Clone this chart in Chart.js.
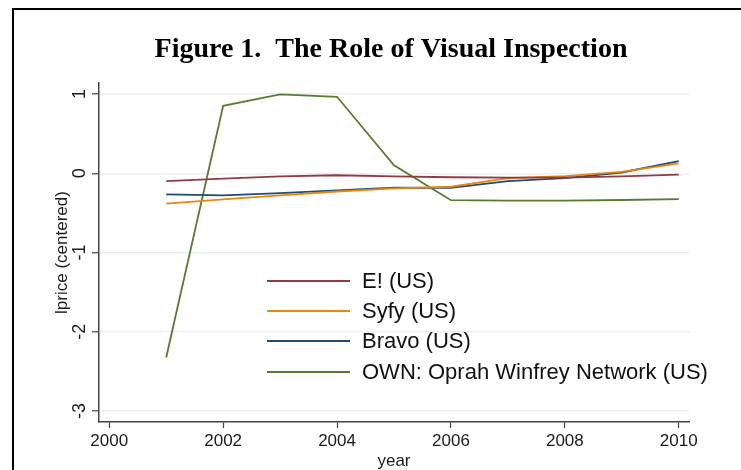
<!DOCTYPE html>
<html>
<head>
<meta charset="utf-8">
<script src="https://cdn.jsdelivr.net/npm/chart.js@4.4.1/dist/chart.umd.min.js"></script>
<style>
  html, body { margin: 0; padding: 0; background: #fff; }
  #wrap { width: 741px; height: 470px; }
</style>
</head>
<body>
<div id="wrap"><canvas id="chart"></canvas></div>
<script>
// values
const years = [2001, 2002, 2003, 2004, 2005, 2006, 2007, 2008, 2009, 2010];
const eValues     = [-0.10, -0.067, -0.04, -0.025, -0.04, -0.05, -0.055, -0.055, -0.04, -0.016];
const syfyValues  = [-0.384, -0.33, -0.28, -0.23, -0.19, -0.17, -0.06, -0.035, 0.017, 0.125];
const bravoValues = [-0.266, -0.28, -0.25, -0.215, -0.18, -0.185, -0.10, -0.06, 0.01, 0.155];
const ownValues   = [-2.325, 0.852, 0.996, 0.966, 0.10, -0.34, -0.345, -0.345, -0.337, -0.325];

const seriesNames = ["E! (US)", "Syfy (US)", "Bravo (US)", "OWN: Oprah Winfrey Network (US)"];
const xTicks = [2000, 2002, 2004, 2006, 2008, 2010];
const yTicks = [-3, -2, -1, 0, 1];

const colors = ["#8f3a47", "#e8870e", "#1f4b74", "#5a7a34"];
const allValues = [eValues, syfyValues, bravoValues, ownValues];

const datasets = allValues.map((vals, i) => ({
  label: seriesNames[i],
  data: years.map((y, j) => ({ x: y, y: vals[j] })),
  borderColor: colors[i],
  backgroundColor: colors[i],
  borderWidth: 1.8,
  pointRadius: 0,
  tension: 0,
  fill: false
}));

// title, frame, rotated y labels, axis titles and the inset legend
const decor = {
  id: "decor",
  beforeDraw(chart) {
    const c = chart.ctx;
    c.save();
    c.strokeStyle = "#000";
    c.lineWidth = 2;
    c.beginPath();
    c.moveTo(13, 470);
    c.lineTo(13, 9);
    c.lineTo(741, 9);
    c.stroke();
    c.restore();
  },
  afterDraw(chart) {
    const c = chart.ctx;
    const ys = chart.scales.y;
    const xs = chart.scales.x;
    c.save();

    c.fillStyle = "#000";
    c.font = "bold 28px 'Liberation Serif', serif";
    c.textAlign = "center";
    c.textBaseline = "alphabetic";
    c.fillText("Figure 1.  The Role of Visual Inspection", 391, 57);

    c.fillStyle = "#1a1a1a";
    c.font = "18px 'Liberation Sans', Arial, sans-serif";
    ys.ticks.forEach(t => {
      const py = ys.getPixelForValue(t.value);
      c.save();
      c.translate(80, py);
      c.rotate(-Math.PI / 2);
      c.textAlign = "center";
      c.textBaseline = "middle";
      c.fillText(String(t.value), 0, 0);
      c.restore();
    });

    c.save();
    c.translate(62, (ys.top + ys.bottom) / 2);
    c.rotate(-Math.PI / 2);
    c.textAlign = "center";
    c.textBaseline = "middle";
    c.font = "17px 'Liberation Sans', Arial, sans-serif";
    c.fillText("lprice (centered)", 0, 0);
    c.restore();

    c.textAlign = "center";
    c.textBaseline = "middle";
    c.font = "17px 'Liberation Sans', Arial, sans-serif";
    c.fillText("year", (xs.left + xs.right) / 2, 461);

    // legend
    c.font = "22px 'Liberation Sans', Arial, sans-serif";
    c.textAlign = "left";
    c.textBaseline = "middle";
    const rowY = [281, 311, 341, 372];
    chart.data.datasets.forEach((ds, i) => {
      c.strokeStyle = ds.borderColor;
      c.lineWidth = 1.8;
      c.beginPath();
      c.moveTo(267, rowY[i]);
      c.lineTo(350, rowY[i]);
      c.stroke();
      c.fillStyle = "#111";
      c.fillText(ds.label, 362, rowY[i] + 1);
    });
    c.restore();
  }
};

new Chart(document.getElementById("chart"), {
  type: "line",
  data: { datasets },
  plugins: [decor],
  options: {
    responsive: true,
    maintainAspectRatio: false,
    animation: false,
    layout: { padding: { top: 83, left: 0, right: 52, bottom: 0 } },
    plugins: {
      legend: { display: false },
      tooltip: { enabled: false }
    },
    scales: {
      x: {
        type: "linear",
        min: 1999.82,
        max: 2010.18,
        afterBuildTicks: s => { s.ticks = xTicks.map(v => ({ value: v })); },
        afterFit: s => { s.height = 48; },
        border: { color: "#444", width: 1.5 },
        grid: { drawOnChartArea: false, tickLength: 6, tickColor: "#444", tickWidth: 1.2 },
        ticks: {
          color: "#1a1a1a",
          padding: 3,
          maxRotation: 0,
          font: { family: "'Liberation Sans', Arial, sans-serif", size: 17 },
          callback: v => String(v)
        }
      },
      y: {
        type: "linear",
        min: -3.14,
        max: 1.14,
        afterBuildTicks: s => { s.ticks = yTicks.map(v => ({ value: v })); },
        afterFit: s => { s.width = 99; },
        border: { color: "#444", width: 1.5 },
        grid: { color: "#e8f0f1", lineWidth: 1.5, tickLength: 7, tickColor: "#444", tickWidth: 1.2 },
        ticks: { display: false }
      }
    }
  }
});
</script>
</body>
</html>
